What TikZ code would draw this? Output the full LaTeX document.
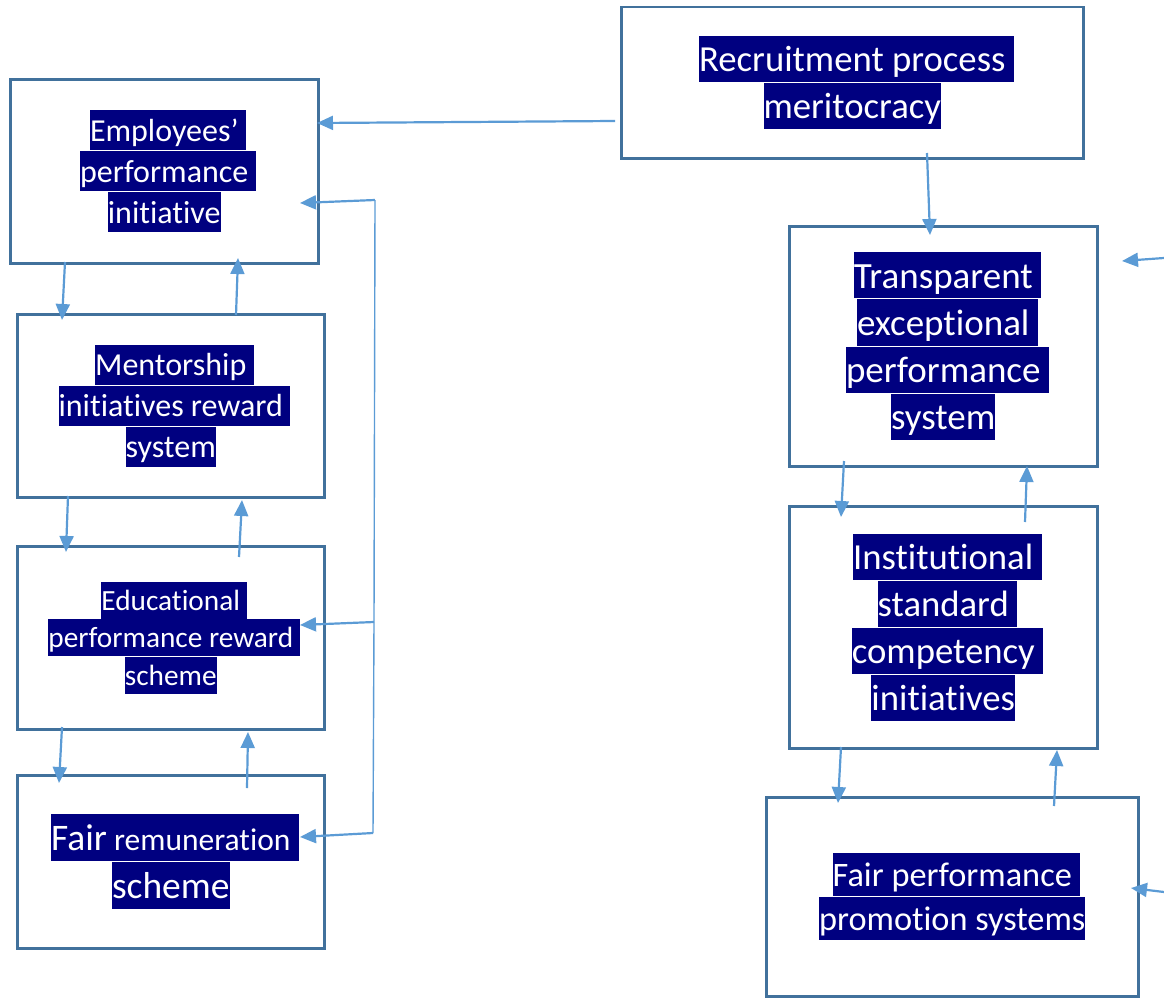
\documentclass[tikz,border=0pt]{standalone}
\usepackage{fontspec}
\setmainfont{Carlito}[Ligatures=NoCommon]
\usetikzlibrary{arrows.meta,calc}
\definecolor{hlnavy}{HTML}{000080}
\definecolor{boxborder}{HTML}{41719C}
\definecolor{arrowblue}{HTML}{5B9BD5}
\newcommand\hlbox[1]{{\setlength\fboxsep{0pt}\colorbox{hlnavy}{\vrule height .76\baselineskip depth .22\baselineskip width 0pt\textcolor{white}{#1}}}}
\newcommand\hlsp[1]{\hlbox{#1}\rlap{\hlbox{\ }}}
\begin{document}
\begin{tikzpicture}[x=1pt,y=-1pt,
  box/.style={draw=boxborder, line width=2.5pt, fill=white, rectangle, inner sep=0pt, align=center, anchor=north west},
  arr/.style={draw=arrowblue, line width=2.2pt, -{Triangle[length=16pt,width=14pt]}},
  bus/.style={draw=arrowblue, line width=1.4pt}]
\useasboundingbox (0,0) rectangle (1164,998);

% left column
\node[box, minimum width=308pt, minimum height=184pt, font=\fontsize{32}{41}\selectfont] (E) at (9,78)
  {\hlsp{Employees’}\\ \hlsp{performance}\\ \hlbox{initiative}};
\node[box, minimum width=307pt, minimum height=183pt, font=\fontsize{32}{41}\selectfont] (M) at (16,313)
  {\hlsp{Mentorship}\\ \hlsp{initiatives reward}\\ \hlbox{system}};
\node[box, minimum width=307pt, minimum height=183pt, font=\fontsize{29.3}{37.5}\selectfont] (Ed) at (16,545)
  {\hlsp{Educational}\\ \hlsp{performance reward}\\ \hlbox{scheme}};
\node[box, minimum width=307pt, minimum height=173pt, font=\fontsize{37.5}{48}\selectfont] (F) at (16,774)
  {\hlsp{Fair{\fontsize{31.5}{48}\selectfont\ remuneration}}\\ \hlbox{scheme}};

% right column
\node[box, minimum width=462pt, minimum height=151pt, font=\fontsize{36.7}{47}\selectfont] (R) at (620,6)
  {\hlsp{Recruitment process}\\ \hlbox{meritocracy}};
\node[box, minimum width=308pt, minimum height=240pt, font=\fontsize{37}{47.3}\selectfont] (T) at (788,225)
  {\hlsp{Transparent}\\ \hlsp{exceptional}\\ \hlsp{performance}\\ \hlbox{system}};
\node[box, minimum width=308pt, minimum height=242pt, font=\fontsize{36.7}{47}\selectfont] (I) at (788,505)
  {\hlsp{Institutional}\\ \hlsp{standard}\\ \hlsp{competency}\\ \hlbox{initiatives}};
\node[box, minimum width=372pt, minimum height=199pt, font=\fontsize{34.3}{44}\selectfont] (P) at (765,796)
  {\hlsp{Fair performance}\\ \hlbox{promotion systems}};

% free ends
\coordinate (busTop) at (375,200);
\coordinate (busMid) at (374,622);
\coordinate (busBot) at (373,833);
\coordinate (extT) at (1164,258);
\coordinate (extP) at (1164,892);

% connectors
\draw[arr] ($(R.north west)+(-5,115)$) -- ($(E.north west)+(308,45)$);
\draw[bus] (busTop) -- (busMid) -- (busBot);
\draw[arr] (busTop) -- ($(E.north west)+(291,125)$);
\draw[arr] (busMid) -- ($(Ed.north west)+(284,80)$);
\draw[arr] (busBot) -- ($(F.north west)+(284,63)$);

\draw[arr] ($(E.north west)+(56,184)$) -- ($(M.north west)+(46,7)$);
\draw[arr] ($(M.north west)+(220,2)$) -- ($(E.north west)+(229,180)$);
\draw[arr] ($(M.north west)+(52,183)$) -- ($(Ed.north west)+(50,7)$);
\draw[arr] ($(Ed.north west)+(223,12)$) -- ($(M.north west)+(226,187)$);
\draw[arr] ($(Ed.north west)+(46,182)$) -- ($(F.north west)+(43,9)$);
\draw[arr] ($(F.north west)+(231,14)$) -- ($(Ed.north west)+(232,187)$);

\draw[arr] ($(R.north west)+(307,147)$) -- ($(T.north west)+(142,10)$);
\draw[arr] (extT) -- ($(T.north west)+(334,36)$);
\draw[arr] ($(T.north west)+(56,236)$) -- ($(I.north west)+(53,12)$);
\draw[arr] ($(I.north west)+(237,17)$) -- ($(T.north west)+(239,241)$);
\draw[arr] ($(I.north west)+(53,242)$) -- ($(P.north west)+(73,7)$);
\draw[arr] ($(P.north west)+(289,10)$) -- ($(I.north west)+(269,245)$);
\draw[arr] (extP) -- ($(P.north west)+(366,92)$);
\end{tikzpicture}
\end{document}
